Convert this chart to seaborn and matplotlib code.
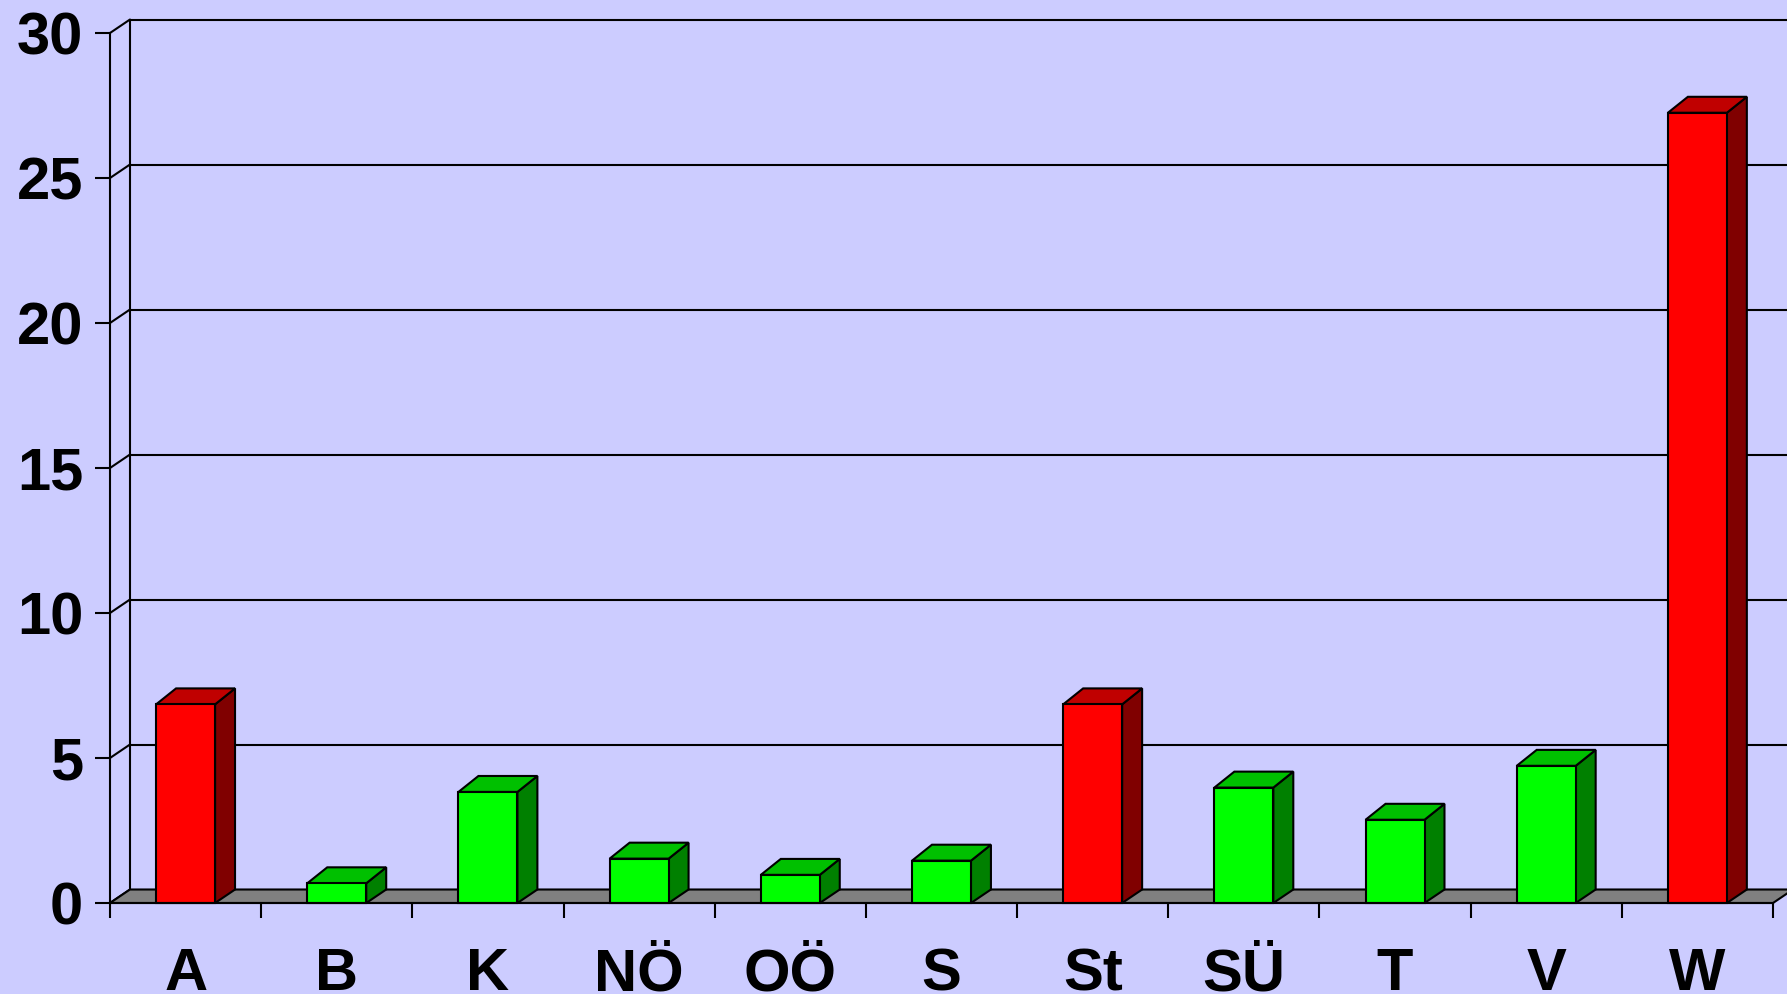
import matplotlib
matplotlib.use("Agg")
import matplotlib.pyplot as plt
from matplotlib.patches import Polygon
import seaborn as sns

# Values per region
REGIONS = ["A", "B", "K", "NÖ", "OÖ", "S", "St", "SÜ", "T", "V", "W"]
VALUES = [6.85, 0.68, 3.83, 1.53, 0.97, 1.46, 6.85, 3.98, 2.87, 4.73, 27.25]
HIGHLIGHT = ["A", "St", "W"]
Y_TICKS = [0, 5, 10, 15, 20, 25, 30]

BG = "#CCCCFF"
FRONT = {"red": "#FF0000", "green": "#00FF00"}
TOP = {"red": "#C00000", "green": "#00C000"}
SIDE = {"red": "#800000", "green": "#008000"}

sns.set_style("white")
plt.rcParams["font.family"] = ["Liberation Sans", "DejaVu Sans"]
plt.rcParams["text.color"] = "black"
plt.rcParams["xtick.color"] = "black"
plt.rcParams["ytick.color"] = "black"

fig = plt.figure(figsize=(17.87, 9.94), dpi=100, facecolor=BG)
ax = fig.add_axes([110 / 1787, 91 / 994, 1663 / 1787, 870 / 994])
ax.set_facecolor(BG)

kind = ["red" if r in HIGHLIGHT else "green" for r in REGIONS]
palette = {r: FRONT[k] for r, k in zip(REGIONS, kind)}

sns.barplot(x=REGIONS, y=VALUES, hue=REGIONS, palette=palette, order=REGIONS,
            width=0.39, saturation=1, edgecolor="black", linewidth=1.5,
            legend=False, ax=ax)

ax.set_xlim(-0.5, len(REGIONS) - 0.5)
ax.set_ylim(0, 30)

# depth offset of the pseudo-3D look (data units)
dx, dy, dy_top = 0.132, 0.465, 0.55
lw = 1.5

# back wall gridlines + little connectors from the front axis
x_left, x_right = -0.5, len(REGIONS) - 0.5
for v in Y_TICKS:
    ax.plot([x_left + dx, x_right + dx], [v + dy, v + dy], color="black",
            lw=lw, zorder=1, clip_on=False)
    ax.plot([x_left, x_left + dx], [v, v + dy], color="black", lw=lw,
            zorder=1, clip_on=False)
ax.plot([x_left + dx, x_left + dx], [dy, 30 + dy], color="black", lw=lw,
        zorder=1, clip_on=False)

# extruded bars
bars = list(ax.patches)
for p, k in zip(bars, kind):
    x0, w, h = p.get_x(), p.get_width(), p.get_height()
    side = Polygon([(x0 + w, 0), (x0 + w + dx, dy), (x0 + w + dx, h + dy_top), (x0 + w, h)],
                   closed=True, facecolor=SIDE[k], edgecolor="black", lw=lw,
                   zorder=2.5, clip_on=False)
    top = Polygon([(x0, h), (x0 + w, h), (x0 + w + dx, h + dy_top), (x0 + dx, h + dy_top)],
                  closed=True, facecolor=TOP[k], edgecolor="black", lw=lw,
                  zorder=2.5, clip_on=False)
    ax.add_patch(side)
    ax.add_patch(top)
    p.set_zorder(3)
    p.set_clip_on(False)

# floor
floor = Polygon([(x_left, 0), (x_right, 0), (x_right + dx, dy), (x_left + dx, dy)],
                closed=True, facecolor="#808080", edgecolor="black", lw=lw,
                zorder=1.5, clip_on=False)
ax.add_patch(floor)

# axes styling
for s in ["top", "right"]:
    ax.spines[s].set_visible(False)
for s in ["left", "bottom"]:
    ax.spines[s].set_linewidth(lw)
    ax.spines[s].set_color("black")
    ax.spines[s].set_zorder(4)

ax.set_yticks(Y_TICKS)
ax.set_yticklabels([str(v) for v in Y_TICKS], fontsize=43, fontweight="bold")
ax.tick_params(axis="y", direction="out", length=10.8, width=lw, pad=8.5,
               left=True, colors="black", labelcolor="black")

ax.set_xticks([i - 0.5 for i in range(len(REGIONS) + 1)])
ax.set_xticklabels([])
ax.set_xticks(range(len(REGIONS)), REGIONS, minor=True)
ax.tick_params(axis="x", which="major", direction="out", length=10.8, width=lw,
               bottom=True, colors="black")
ax.tick_params(axis="x", which="minor", length=0, pad=63, labelsize=43,
               labelcolor="black")
for lbl in ax.get_xticklabels(minor=True):
    lbl.set_fontweight("bold")
    lbl.set_verticalalignment("baseline")

ax.set_xlabel("")
ax.set_ylabel("")
ax.grid(False)

fig.savefig("out.png", dpi=100, facecolor=BG)
